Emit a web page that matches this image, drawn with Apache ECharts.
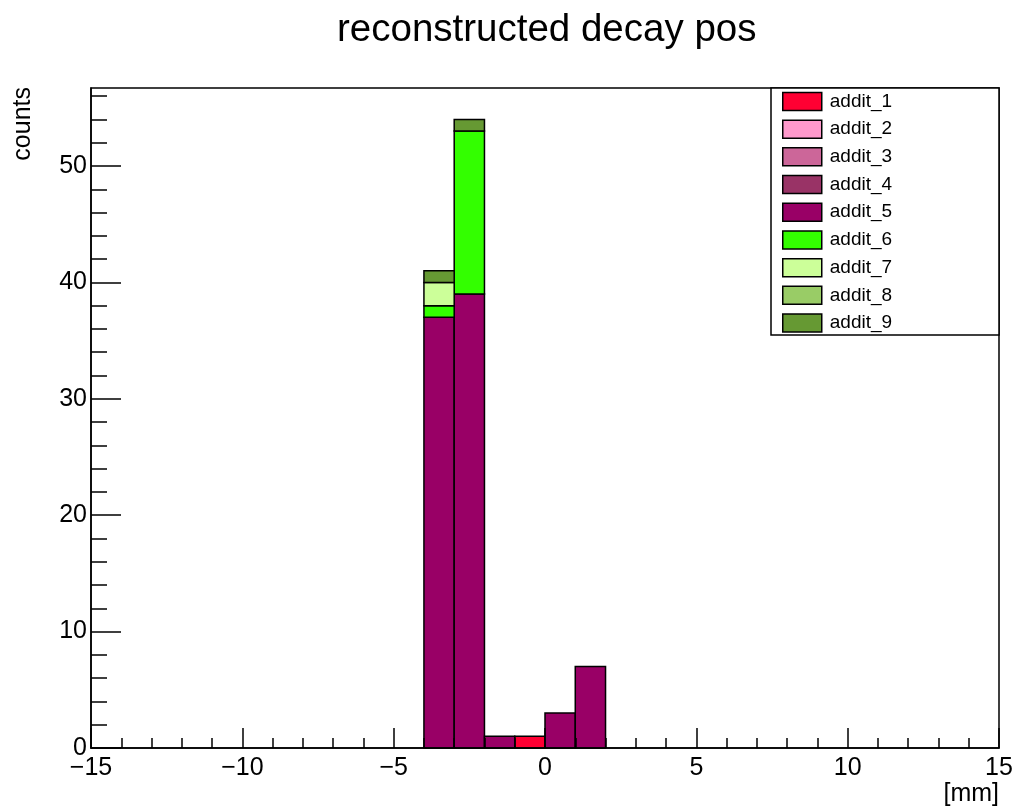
<!DOCTYPE html>
<html>
<head>
<meta charset="utf-8">
<script src="https://cdn.jsdelivr.net/npm/echarts@6/dist/echarts.min.js"></script>
<style>html,body{margin:0;padding:0;background:#fff}#c{width:1020px;height:807px}</style>
</head>
<body>
<div id="c"></div>
<script>
const titleText = 'reconstructed decay pos';
const xName = '[mm]';
const yName = 'counts';
const binCenters = [-14.5,-13.5,-12.5,-11.5,-10.5,-9.5,-8.5,-7.5,-6.5,-5.5,-4.5,-3.5,-2.5,-1.5,-0.5,0.5,1.5,2.5,3.5,4.5,5.5,6.5,7.5,8.5,9.5,10.5,11.5,12.5,13.5,14.5];
const binWidth = 1;
const seriesNames = ['addit_1','addit_2','addit_3','addit_4','addit_5','addit_6','addit_7','addit_8','addit_9'];
const seriesColors = ['#ff0033','#ff99cc','#cc6699','#993366','#990066','#33ff00','#ccff99','#99cc66','#669933'];
const addit_1 = [0,0,0,0,0,0,0,0,0,0,0,0,0,0,1,0,0,0,0,0,0,0,0,0,0,0,0,0,0,0];
const addit_2 = [0,0,0,0,0,0,0,0,0,0,0,0,0,0,0,0,0,0,0,0,0,0,0,0,0,0,0,0,0,0];
const addit_3 = [0,0,0,0,0,0,0,0,0,0,0,0,0,0,0,0,0,0,0,0,0,0,0,0,0,0,0,0,0,0];
const addit_4 = [0,0,0,0,0,0,0,0,0,0,0,0,0,0,0,0,0,0,0,0,0,0,0,0,0,0,0,0,0,0];
const addit_5 = [0,0,0,0,0,0,0,0,0,0,0,37,39,1,0,3,7,0,0,0,0,0,0,0,0,0,0,0,0,0];
const addit_6 = [0,0,0,0,0,0,0,0,0,0,0,1,14,0,0,0,0,0,0,0,0,0,0,0,0,0,0,0,0,0];
const addit_7 = [0,0,0,0,0,0,0,0,0,0,0,2,0,0,0,0,0,0,0,0,0,0,0,0,0,0,0,0,0,0];
const addit_8 = [0,0,0,0,0,0,0,0,0,0,0,0,0,0,0,0,0,0,0,0,0,0,0,0,0,0,0,0,0,0];
const addit_9 = [0,0,0,0,0,0,0,0,0,0,0,1,1,0,0,0,0,0,0,0,0,0,0,0,0,0,0,0,0,0];
const seriesValues = [addit_1,addit_2,addit_3,addit_4,addit_5,addit_6,addit_7,addit_8,addit_9];
const xMin = -15, xMax = 15, xInterval = 5;
const yMin = 0, yMax = 56.7;
const yMajorTicks = [0,10,20,30,40,50];
const yMinorTicks = [2,4,6,8,12,14,16,18,22,24,26,28,32,34,36,38,42,44,46,48,52,54,56];

const FONT = '"Liberation Sans", Arial, Helvetica, sans-serif';
const fmtMinus = v => String(v).replace('-', '\u2212');

// stacked bases
const cum = binCenters.map(() => 0);
const series = seriesNames.map((name, si) => {
  const data = binCenters.map((c, i) => {
    const base = cum[i];
    const top = base + seriesValues[si][i];
    cum[i] = top;
    return [c, base, top];
  });
  return {
    name: name,
    type: 'custom',
    xAxisIndex: 0,
    yAxisIndex: 0,
    z: 2,
    itemStyle: { color: seriesColors[si], borderColor: '#000', borderWidth: 1.5 },
    encode: { x: 0, y: [1, 2] },
    renderItem: function (params, api) {
      const c = api.value(0), b = api.value(1), t = api.value(2);
      if (t - b <= 0) return null;
      const p0 = api.coord([c - binWidth / 2, b]);
      const p1 = api.coord([c + binWidth / 2, t]);
      return {
        type: 'rect',
        shape: { x: p0[0], y: p1[1], width: p1[0] - p0[0], height: p0[1] - p1[1] },
        style: { fill: seriesColors[si], stroke: '#000', lineWidth: 1.5 }
      };
    },
    data: data
  };
});

const chart = echarts.init(document.getElementById('c'), null, { renderer: 'canvas' });
chart.setOption({
  animation: false,
  backgroundColor: '#fff',
  textStyle: { fontFamily: FONT },
  title: {
    text: titleText,
    left: 332, top: 6,
    textStyle: { fontFamily: FONT, fontSize: 38.5, fontWeight: 'normal', color: '#000' }
  },
  grid: {
    left: 91, right: 21, top: 88, bottom: 59,
    show: true, borderColor: '#000', borderWidth: 1.5, backgroundColor: 'transparent'
  },
  xAxis: {
    type: 'value', min: xMin, max: xMax, interval: xInterval, z: 5,
    axisLine: { show: true, onZero: false, lineStyle: { color: '#000', width: 1.5 } },
    axisTick: { show: true, inside: true, length: 20, lineStyle: { color: '#000', width: 1.5 } },
    minorTick: { show: true, splitNumber: 5, length: 10, lineStyle: { color: '#000', width: 1.5 } },
    splitLine: { show: false },
    axisLabel: { margin: 8, fontSize: 25, color: '#000', fontFamily: FONT, formatter: fmtMinus }
  },
  yAxis: [{
    type: 'value', min: yMin, max: yMax, position: 'left', z: 5,
    axisLine: { show: true, onZero: false, lineStyle: { color: '#000', width: 1.5 } },
    axisTick: { show: true, inside: true, length: 30, customValues: yMajorTicks, lineStyle: { color: '#000', width: 1.5 } },
    splitLine: { show: false },
    axisLabel: { margin: 4, fontSize: 25, color: '#000', fontFamily: FONT, customValues: yMajorTicks }
  }, {
    type: 'value', min: yMin, max: yMax, position: 'left', offset: 0, z: 5,
    axisLine: { show: false, onZero: false },
    axisTick: { show: true, inside: true, length: 16, customValues: yMinorTicks, lineStyle: { color: '#000', width: 1.5 } },
    splitLine: { show: false },
    axisLabel: { show: false }
  }],
  legend: {
    orient: 'vertical', left: 782, top: 91.7, padding: 0, z: 20,
    icon: 'rect', itemWidth: 39, itemHeight: 18, itemGap: 8.2,
    itemStyle: { borderColor: '#000', borderWidth: 1.5 },
    textStyle: { fontFamily: FONT, fontSize: 19, color: '#000', lineHeight: 18, padding: [0, 0, 0, 3] },
    data: seriesNames
  },
  graphic: [
    { type: 'rect', z: 10, shape: { x: 771, y: 88, width: 228, height: 247 },
      style: { fill: '#fff', stroke: '#000', lineWidth: 1.5 } },
    { type: 'text', z: 10, x: 23, y: 87, rotation: Math.PI / 2,
      style: { text: yName, fontFamily: FONT, fontSize: 25, fill: '#000', align: 'right', verticalAlign: 'middle' } },
    { type: 'text', z: 10, x: 999, y: 794,
      style: { text: xName, fontFamily: FONT, fontSize: 25, fill: '#000', align: 'right', verticalAlign: 'middle' } }
  ],
  series: series
});
</script>
</body>
</html>
